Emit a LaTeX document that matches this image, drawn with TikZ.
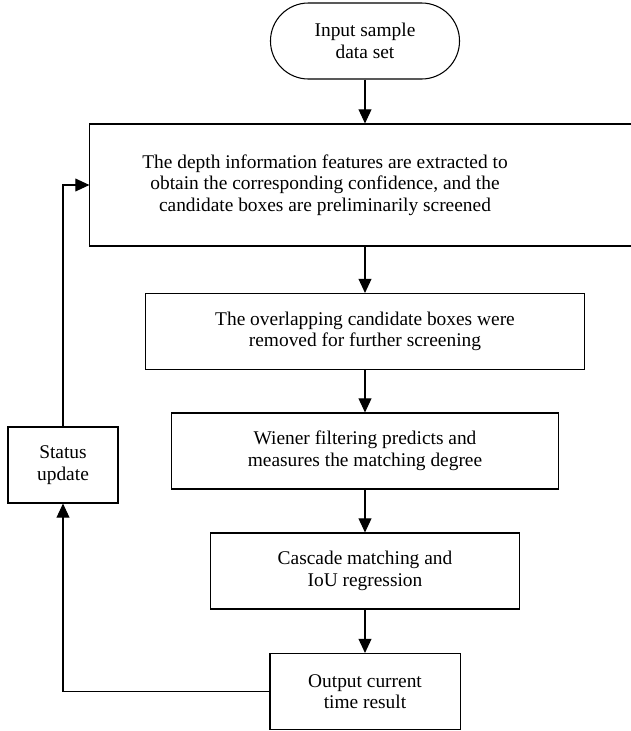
\documentclass[tikz,border=0pt]{standalone}
\usepackage{fontspec}
\setmainfont{Liberation Serif}
\usepackage{tikz}
\usetikzlibrary{arrows.meta}

\begin{document}
\begin{tikzpicture}[x=0.025cm, y=-0.025cm,
  every node/.style={draw, line width=0.75pt, align=center, inner sep=2pt,
    font=\fontsize{13.8}{15.4}\selectfont},
  box/.style={rectangle, minimum height=1.9cm},
  arr/.style={line width=0.75pt, -{Triangle[length=0.35cm, width=0.32cm]}}]
\path[use as bounding box, clip] (0,0) rectangle (631,731);
% Boxes
\node[box, rounded corners=0.95cm, minimum width=4.725cm] (input) at (365,41) {Input sample\\data set};
\node[box, minimum width=13.75cm, minimum height=3.05cm,
  label={[draw=none, xshift=-1cm]center:The depth information features are extracted to\\obtain the corresponding confidence, and the\\candidate boxes are preliminarily screened}] (extract) at (365,185) {};
\node[box, minimum width=10.95cm] (remove) at (365,331.5) {The overlapping candidate boxes were\\removed for further screening};
\node[box, minimum width=9.65cm] (wiener) at (365,451) {Wiener filtering predicts and\\measures the matching degree};
\node[box, minimum width=7.7cm] (cascade) at (365,571) {Cascade matching and\\IoU regression};
\node[box, minimum width=4.75cm] (output) at (365,691.5) {Output current\\time result};
\node[box, minimum width=2.75cm] (status) at (63,465) {Status\\update};
% Arrows
\draw[arr] (input) -- (extract);
\draw[arr] (extract) -- (remove);
\draw[arr] (remove) -- (wiener);
\draw[arr] (wiener) -- (cascade);
\draw[arr] (cascade) -- (output);
\draw[arr] (output.west) -| (status.south);
\draw[arr] (status.north) |- (extract.west);
\end{tikzpicture}
\end{document}
